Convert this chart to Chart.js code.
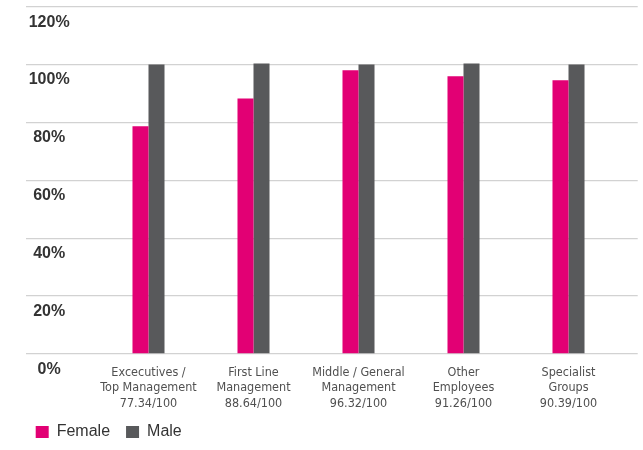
<!DOCTYPE html>
<html>
<head>
<meta charset="utf-8">
<script src="https://cdn.jsdelivr.net/npm/chart.js@4.4.1/dist/chart.umd.min.js"></script>
<style>
    body { margin: 0; background: #fff; }
    #chart-wrap { width: 643px; height: 450px; }
</style>
</head>
<body>
<div id="chart-wrap"><canvas id="pay-chart" width="643" height="450"></canvas></div>
<script>
// category labels, one array of lines per group
const categoryLines = [
    ['Excecutives /', 'Top Management', '77.34/100'],
    ['First Line', 'Management', '88.64/100'],
    ['Middle / General', 'Management', '96.32/100'],
    ['Other', 'Employees', '91.26/100'],
    ['Specialist', 'Groups', '90.39/100']
];
const seriesNames = ['Female', 'Male'];
// bar heights (percent)
const femaleValues = [78.7, 88.3, 98.0, 96.0, 94.6];
const maleValues = [100, 100.4, 100, 100.4, 100];

const toPoints = vals => vals.map((v, i) => ({ x: i, y: v }));

new Chart(document.getElementById('pay-chart'), {
    type: 'bar',
    data: {
        datasets: [
            { label: seriesNames[0], data: toPoints(femaleValues), backgroundColor: '#E20074' },
            { label: seriesNames[1], data: toPoints(maleValues), backgroundColor: '#58595B' }
        ]
    },
    options: {
        responsive: false,
        animation: false,
        categoryPercentage: 0.305,
        barPercentage: 1.0,
        layout: { autoPadding: false, padding: { left: 19.7, right: 5.3, top: 6.7, bottom: 0 } },
        plugins: {
            tooltip: { enabled: false },
            legend: {
                position: 'bottom',
                align: 'start',
                labels: {
                    boxWidth: 13,
                    boxHeight: 12,
                    padding: 16,
                    color: '#333',
                    font: { family: 'Liberation Sans, Arial, sans-serif', size: 16, lineHeight: 0.9 }
                }
            }
        },
        scales: {
            x: {
                type: 'linear',
                offset: false,
                min: -1.1695,
                max: 4.659,
                grid: { display: false },
                border: { display: false },
                afterBuildTicks: scale => {
                    scale.ticks = categoryLines.map((l, i) => ({ value: i }));
                },
                // labels hang a bit into the legend band, as in the original
                afterFit: scale => { scale.height -= 6.5; },
                ticks: {
                    autoSkip: false,
                    maxRotation: 0,
                    padding: 3.4,
                    color: '#505050',
                    font: { family: 'DejaVu Sans Condensed, Liberation Sans Narrow, sans-serif', size: 12.5, lineHeight: 1.22 },
                    callback: value => categoryLines[value]
                }
            },
            y: {
                min: 0,
                max: 120,
                grid: { color: '#d2d2d2', lineWidth: 1.3, drawTicks: false },
                border: { display: false },
                ticks: {
                    stepSize: 20,
                    mirror: true,
                    crossAlign: 'center',
                    padding: 3,
                    labelOffset: 15.5,
                    color: '#333',
                    font: { family: 'Liberation Sans, Arial, sans-serif', size: 16, weight: 'bold', lineHeight: 0.4 },
                    callback: v => v + '%'
                }
            }
        }
    }
});
</script>
</body>
</html>
